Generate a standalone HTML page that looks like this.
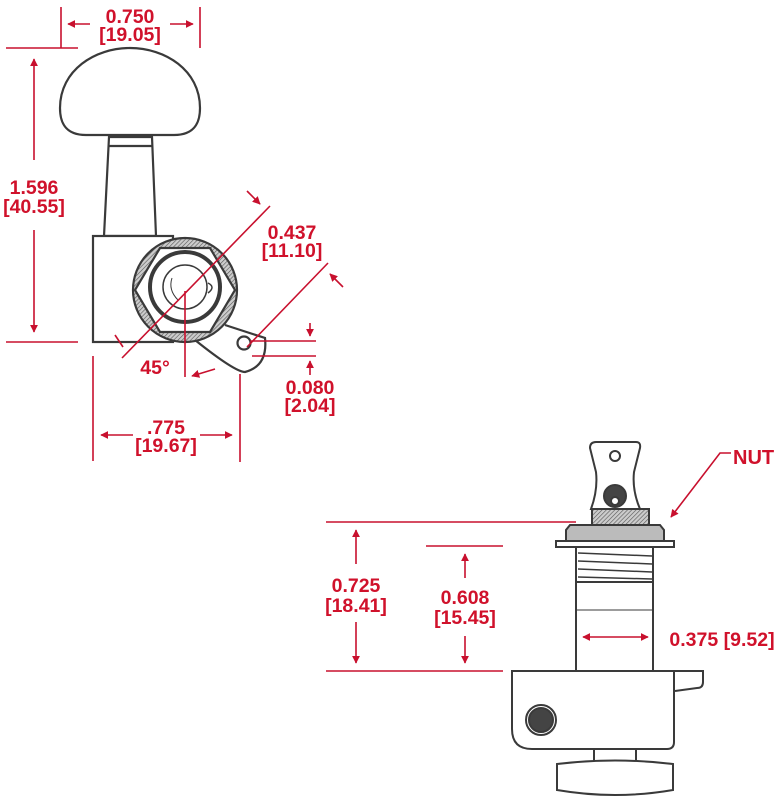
<!DOCTYPE html>
<html><head><meta charset="utf-8"><style>
html,body{margin:0;padding:0;background:#fff}
svg{display:block}
</style></head><body>
<svg width="781" height="800" viewBox="0 0 781 800" xmlns="http://www.w3.org/2000/svg">
<defs>
<marker id="a" viewBox="0 0 10 10" refX="9" refY="5" markerWidth="5" markerHeight="5" orient="auto"><path d="M0,0 L10,5 L0,10 z" fill="#c8102e"/></marker>
<pattern id="h" width="3" height="3" patternUnits="userSpaceOnUse" patternTransform="rotate(45)"><rect width="3" height="3" fill="#ccc"/><line x1="0" y1="0" x2="0" y2="3" stroke="#555" stroke-width="1.2"/></pattern>
</defs>
<g fill="none" stroke="#3a3a3a" stroke-width="2.2">
<path d="M86,135 C62,135 60,118 60,108 C60,70 95,48 130,48 C165,48 200,70 200,108 C200,118 198,135 174,135 Z" fill="#fff"/>
<path d="M109,137 L104,236 L156,236 L152,137 Z" fill="#fff"/>
<line x1="109" y1="146" x2="152" y2="146"/>
<rect x="93" y="236" width="80" height="106" fill="#fff"/>
<path d="M225,325 L265,338 Q268,366 245,372 Q235,372 195,340" fill="#fff"/>
<circle cx="244" cy="343" r="6.5"/>
<circle cx="185" cy="290" r="52" fill="url(#h)"/>
<path d="M160,248 L210,248 L235,290 L210,332 L160,332 L135,290 Z" fill="#fff"/>
<circle cx="185" cy="287" r="35" stroke-width="4" fill="#fff"/>
<circle cx="185" cy="287" r="22" stroke-width="1.5"/>
<path d="M208,283 Q216,287 208,293" stroke-width="1.5"/>
<path d="M172,278 Q168,290 178,300" stroke-width="1"/>
</g>
<g fill="none" stroke="#3a3a3a" stroke-width="2">
<path d="M596,442 L636,442 Q641,442 640,448 L634,472 Q632,490 640,509 L591,509 Q598,490 596,472 L590,448 Q590,442 596,442 Z" fill="#fff"/>
<circle cx="615" cy="456" r="5"/>
<circle cx="615" cy="496" r="11" fill="#444"/><circle cx="615" cy="501" r="4" fill="#fff"/>
<rect x="592" y="509" width="57" height="16" fill="url(#h)"/>
<path d="M570,525 L660,525 L664,530 L664,541 L566,541 L566,530 Z" fill="#bbb"/>
<rect x="556" y="541" width="118" height="6" fill="#fff"/>
<rect x="576" y="547" width="77" height="35" fill="#fff"/>
<path d="M578,553 L652,556 M578,561 L652,564 M578,569 L652,572 M578,577 L652,579" stroke-width="1.5"/>
<rect x="576" y="582" width="77" height="89" fill="#fff"/>
<line x1="576" y1="610" x2="653" y2="610" stroke-width="1"/>
<path d="M512,671 L674,671 L674,742 Q674,749 667,749 L532,749 Q512,749 512,729 Z" fill="#fff"/>
<path d="M674,671 L703,671 L703,682 Q703,688 697,688 L675,691"/>
<circle cx="541" cy="720" r="15"/><circle cx="541" cy="720" r="12" fill="#444"/>
<rect x="594" y="749" width="42" height="15" fill="#fff"/>
<path d="M557,764 Q615,757 673,764 L673,790 Q615,800 557,790 Z" fill="#fff"/>
</g>
<g stroke="#c8102e" stroke-width="1.6" fill="none">
<line x1="61" y1="7" x2="61" y2="48"/><line x1="200" y1="7" x2="200" y2="48"/>
<line x1="6" y1="48" x2="78" y2="48"/><line x1="6" y1="342" x2="78" y2="342"/>
<line x1="90" y1="24" x2="68" y2="24" marker-end="url(#a)"/>
<line x1="170" y1="24" x2="193" y2="24" marker-end="url(#a)"/>
<line x1="34" y1="160" x2="34" y2="59" marker-end="url(#a)"/>
<line x1="34" y1="230" x2="34" y2="332" marker-end="url(#a)"/>
<line x1="122" y1="358" x2="270" y2="206"/>
<line x1="115" y1="335" x2="123" y2="347"/>
<line x1="247" y1="347" x2="328" y2="263"/>
<line x1="185" y1="291" x2="185" y2="377"/>
<path d="M215,369 Q205,372 192,376" marker-end="url(#a)"/>
<line x1="247" y1="191" x2="260" y2="204" marker-end="url(#a)"/>
<line x1="343" y1="287" x2="330" y2="274" marker-end="url(#a)"/>
<line x1="250" y1="341" x2="316" y2="341"/><line x1="252" y1="356" x2="316" y2="356"/>
<line x1="310" y1="323" x2="310" y2="336" marker-end="url(#a)"/>
<line x1="310" y1="375" x2="310" y2="361" marker-end="url(#a)"/>
<line x1="93" y1="356" x2="93" y2="461"/><line x1="240" y1="374" x2="240" y2="462"/>
<line x1="133" y1="435" x2="101" y2="435" marker-end="url(#a)"/>
<line x1="200" y1="435" x2="232" y2="435" marker-end="url(#a)"/>
<line x1="326" y1="522" x2="576" y2="522"/>
<line x1="426" y1="546" x2="503" y2="546"/>
<line x1="326" y1="671" x2="503" y2="671"/>
<line x1="356" y1="564" x2="356" y2="530" marker-end="url(#a)"/>
<line x1="356" y1="622" x2="356" y2="663" marker-end="url(#a)"/>
<line x1="465" y1="578" x2="465" y2="554" marker-end="url(#a)"/>
<line x1="465" y1="636" x2="465" y2="663" marker-end="url(#a)"/>
<line x1="615" y1="637" x2="583" y2="637" marker-end="url(#a)"/>
<line x1="615" y1="637" x2="648" y2="637" marker-end="url(#a)"/>
<polyline points="731,453 720,453 671,517" marker-end="url(#a)"/>
</g>
<g font-family="Liberation Sans, Arial, sans-serif" font-weight="700" font-size="19.5" fill="#d0112b" text-anchor="middle">
<text x="130" y="23">0.750</text><text x="130" y="41">[19.05]</text>
<text x="34" y="194">1.596</text><text x="34" y="213">[40.55]</text>
<text x="292" y="239">0.437</text><text x="292" y="257">[11.10]</text>
<text x="155" y="374">45°</text>
<text x="310" y="394">0.080</text><text x="310" y="412">[2.04]</text>
<text x="166" y="434">.775</text><text x="166" y="452">[19.67]</text>
<text x="356" y="592">0.725</text><text x="356" y="612">[18.41]</text>
<text x="465" y="604">0.608</text><text x="465" y="624">[15.45]</text>
<text x="722" y="646">0.375 [9.52]</text>
<text x="733" y="464" text-anchor="start" font-size="20">NUT</text>
</g>
</svg>
</body></html>
